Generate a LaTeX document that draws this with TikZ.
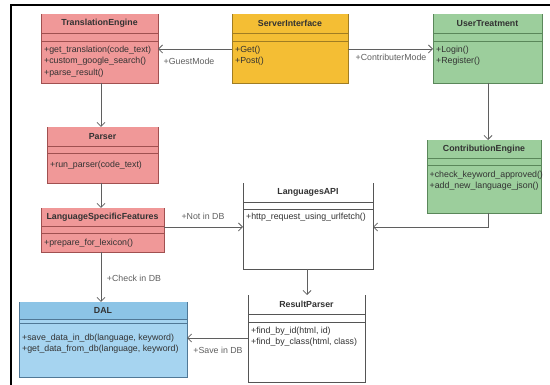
\documentclass[tikz,border=0pt]{standalone}
\usepackage{fontspec}
\setmainfont{Liberation Sans}
\usetikzlibrary{arrows.meta}
\definecolor{redfill}{RGB}{240,152,152}
\definecolor{redborder}{RGB}{160,80,80}
\definecolor{yelfill}{RGB}{244,190,52}
\definecolor{yelborder}{RGB}{160,125,35}
\definecolor{grnfill}{RGB}{156,206,156}
\definecolor{grnborder}{RGB}{90,135,90}
\definecolor{blufill}{RGB}{166,212,240}
\definecolor{bluhead}{RGB}{140,196,230}
\definecolor{bluborder}{RGB}{80,120,150}
\definecolor{wborder}{RGB}{85,85,85}
\definecolor{arrowgray}{RGB}{95,95,95}
\definecolor{txt}{RGB}{50,50,50}
\tikzset{
  redbox/.style={fill=redfill,draw=redborder},
  redbox head/.style={fill=redfill},
  redbox line/.style={draw=redborder,line width=0.7pt},
  yelbox/.style={fill=yelfill,draw=yelborder},
  yelbox head/.style={fill=yelfill},
  yelbox line/.style={draw=yelborder,line width=0.7pt},
  grnbox/.style={fill=grnfill,draw=grnborder},
  grnbox head/.style={fill=grnfill},
  grnbox line/.style={draw=grnborder,line width=0.7pt},
  blubox/.style={fill=blufill,draw=bluborder},
  blubox head/.style={fill=bluhead},
  blubox line/.style={draw=bluborder,line width=0.7pt},
  whtbox/.style={fill=white,draw=wborder},
  whtbox head/.style={fill=white},
  whtbox line/.style={draw=wborder,line width=0.7pt},
  classtitle/.style={font=\fontsize{8.8}{10}\selectfont\bfseries,text=txt,inner sep=0pt},
  methods/.style={font=\fontsize{8.8}{11.6}\selectfont,text=txt,align=left,anchor=north west,inner sep=0pt},
  arr/.style={draw=arrowgray,line width=0.8pt,-{Straight Barb[length=4pt,width=8pt]}},
  lbl/.style={font=\fontsize{8.8}{10}\selectfont,text=arrowgray,inner sep=0pt},
}
\newcommand\umlclass[9]{%
  \node[#1,line width=0.9pt,anchor=north west,outer sep=0pt,inner sep=0pt,
        minimum width={(#5-#3)*1pt},minimum height={(#6-#4)*1pt}] (#2) at (#3,#4) {};
  \fill[#1 head] (#3+0.5,#4+0.5) rectangle (#5-0.5,#7);
  \draw[#1 line] (#3,#7) -- (#5,#7) (#3,#8) -- (#5,#8);
  \node[classtitle] (#2-t) at ({(#3+#5)/2},{(#4+#7)/2}) {#9};
}
\begin{document}
\begin{tikzpicture}[x=1pt,y=-1pt]
\useasboundingbox (0,0) rectangle (550,385);
% frame
\draw[line width=1.4pt,black] (11,385) -- (11,5) -- (550,5);

\umlclass{redbox}{te}{41}{14}{158}{83}{33}{41}{TranslationEngine}
\node[methods] (te-m) at (44,45.5) {+get\_translation(code\_text)\\+custom\_google\_search()\\+parse\_result()};

\umlclass{yelbox}{si}{232}{14}{348}{83}{33}{41}{ServerInterface}
\node[methods] (si-m) at (235,45.5) {+Get()\\+Post()};

\umlclass{grnbox}{ut}{433}{14}{542}{83}{33}{41}{UserTreatment}
\node[methods] (ut-m) at (436,45.5) {+Login()\\+Register()};

\umlclass{redbox}{pa}{47}{127}{158}{183}{146}{153}{Parser}
\node[methods] (pa-m) at (50,160.5) {+run\_parser(code\_text)};

\umlclass{redbox}{lsf}{41}{208}{164}{252}{226}{233}{LanguageSpecificFeatures}
\node[methods] (lsf-m) at (44,238.5) {+prepare\_for\_lexicon()};

\umlclass{whtbox}{api}{243}{183}{373}{269}{202}{209}{LanguagesAPI}
\node[methods] (api-m) at (246,212.5) {+http\_request\_using\_urlfetch()};

\umlclass{grnbox}{ce}{427}{140}{541}{213}{158}{165}{ContributionEngine}
\node[methods] (ce-m) at (429.5,170.5) {+check\_keyword\_approved()\\+add\_new\_language\_json()};

\umlclass{whtbox}{rp}{248}{295}{365}{382}{314}{322}{ResultParser}
\node[methods] (rp-m) at (251,326.5) {+find\_by\_id(html, id)\\+find\_by\_class(html, class)};

\umlclass{blubox}{dal}{19}{302}{187}{377}{319}{323}{DAL}
\node[methods] (dal-m) at (22,333.5) {+save\_data\_in\_db(language, keyword)\\+get\_data\_from\_db(language, keyword)};

% connectors
\draw[arr] (si.west |- 0,49) -- (te.east |- 0,49);
\node[lbl] (l1) at (189,61) {+GuestMode};
\draw[arr] (si.east |- 0,49) -- (ut.west |- 0,49);
\node[lbl] (l2) at (391,57) {+ContributerMode};
\draw[arr] (te.south -| 101,0) -- (pa.north -| 101,0);
\draw[arr] (pa.south -| 101,0) -- (lsf.north -| 101,0);
\draw[arr] (ut.south -| 488,0) -- (ce.north -| 488,0);
\draw[arr] (lsf.east |- 0,227) -- (api.west |- 0,227);
\node[lbl] (l3) at (203,216) {+Not in DB};
\draw[arr] (ce.south -| 488,0) |- (api.east |- 0,227);
\draw[arr] (api.south -| 307,0) -- (rp.north -| 307,0);
\draw[arr] (lsf.south -| 101,0) -- (dal.north -| 101,0);
\node[lbl] (l4) at (134,278) {+Check in DB};
\draw[arr] (rp.west |- 0,338) -- (dal.east |- 0,338);
\node[lbl] (l5) at (218,350) {+Save in DB};
\end{tikzpicture}
\end{document}
